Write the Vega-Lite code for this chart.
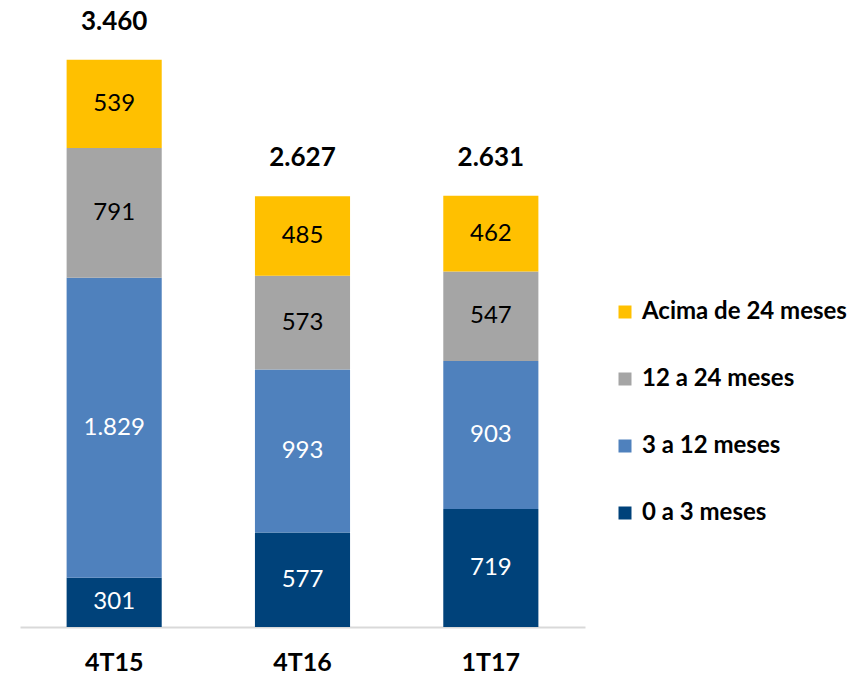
{
  "$schema": "https://vega.github.io/schema/vega-lite/v6.json",
  "width": 565,
  "height": 623,
  "padding": {"left": 20, "top": 4, "right": 0, "bottom": 0},
  "autosize": {"type": "pad"},
  "config": {
    "locale": {"number": {"decimal": ",", "thousands": ".", "grouping": [3], "currency": ["R$", ""]}},
    "view": {"stroke": null},
    "font": "Lato"
  },
  "datasets": {
    "segmentos": [
      {"periodo": "4T15", "faixa": "0 a 3 meses", "ord": 1, "v": 301},
      {"periodo": "4T15", "faixa": "3 a 12 meses", "ord": 2, "v": 1829},
      {"periodo": "4T15", "faixa": "12 a 24 meses", "ord": 3, "v": 791},
      {"periodo": "4T15", "faixa": "Acima de 24 meses", "ord": 4, "v": 539},
      {"periodo": "4T16", "faixa": "0 a 3 meses", "ord": 1, "v": 577},
      {"periodo": "4T16", "faixa": "3 a 12 meses", "ord": 2, "v": 993},
      {"periodo": "4T16", "faixa": "12 a 24 meses", "ord": 3, "v": 573},
      {"periodo": "4T16", "faixa": "Acima de 24 meses", "ord": 4, "v": 485},
      {"periodo": "1T17", "faixa": "0 a 3 meses", "ord": 1, "v": 719},
      {"periodo": "1T17", "faixa": "3 a 12 meses", "ord": 2, "v": 903},
      {"periodo": "1T17", "faixa": "12 a 24 meses", "ord": 3, "v": 547},
      {"periodo": "1T17", "faixa": "Acima de 24 meses", "ord": 4, "v": 462}
    ],
    "totais": [
      {"periodo": "4T15", "total": 3460},
      {"periodo": "4T16", "total": 2627},
      {"periodo": "1T17", "total": 2631}
    ]
  },
  "data": {"name": "segmentos"},
  "encoding": {
    "x": {
      "field": "periodo",
      "type": "nominal",
      "sort": ["4T15", "4T16", "1T17"],
      "scale": {"paddingInner": 0.495, "paddingOuter": 0.2475},
      "axis": {
        "title": null,
        "ticks": false,
        "labelAngle": 0,
        "labelFont": "Lato",
        "labelFontSize": 25,
        "labelFontWeight": "bold",
        "labelColor": "#000000",
        "labelPadding": 23,
        "domainColor": "#D9D9D9",
        "domainWidth": 2
      }
    }
  },
  "layer": [
    {
      "mark": {"type": "bar"},
      "encoding": {
        "y": {
          "field": "v",
          "type": "quantitative",
          "stack": "zero",
          "scale": {"domain": [0, 3800], "nice": false},
          "axis": null
        },
        "color": {
          "field": "faixa",
          "type": "nominal",
          "scale": {
            "domain": ["Acima de 24 meses", "12 a 24 meses", "3 a 12 meses", "0 a 3 meses"],
            "range": ["#FFC000", "#A5A5A5", "#4F81BD", "#00427A"]
          },
          "legend": {
            "title": null,
            "orient": "none",
            "legendX": 593,
            "legendY": 296,
            "symbolType": "square",
            "symbolSize": 169,
            "symbolStrokeWidth": 0,
            "labelFont": "Lato",
            "labelFontSize": 24,
            "labelFontWeight": "bold",
            "labelColor": "#000000",
            "labelOffset": 5,
            "rowPadding": 43,
            "labelLimit": 300
          }
        },
        "order": {"field": "ord", "type": "quantitative"}
      }
    },
    {
      "transform": [
        {"stack": "v", "groupby": ["periodo"], "sort": [{"field": "ord", "order": "ascending"}], "as": ["y0", "y1"]},
        {"calculate": "(datum.y0 + datum.y1) / 2", "as": "ymid"}
      ],
      "mark": {"type": "text", "fontSize": 24, "font": "Lato", "baseline": "middle"},
      "encoding": {
        "y": {"field": "ymid", "type": "quantitative"},
        "text": {"field": "v", "type": "quantitative", "format": ",d"},
        "color": {
          "condition": {"test": "datum.ord <= 2", "value": "#FFFFFF"},
          "value": "#000000"
        }
      }
    },
    {
      "data": {"name": "totais"},
      "mark": {"type": "text", "fontSize": 26, "fontWeight": "bold", "font": "Lato", "baseline": "middle", "dy": -38, "color": "#000000"},
      "encoding": {
        "y": {"field": "total", "type": "quantitative"},
        "text": {"field": "total", "type": "quantitative", "format": ",d"}
      }
    }
  ]
}
